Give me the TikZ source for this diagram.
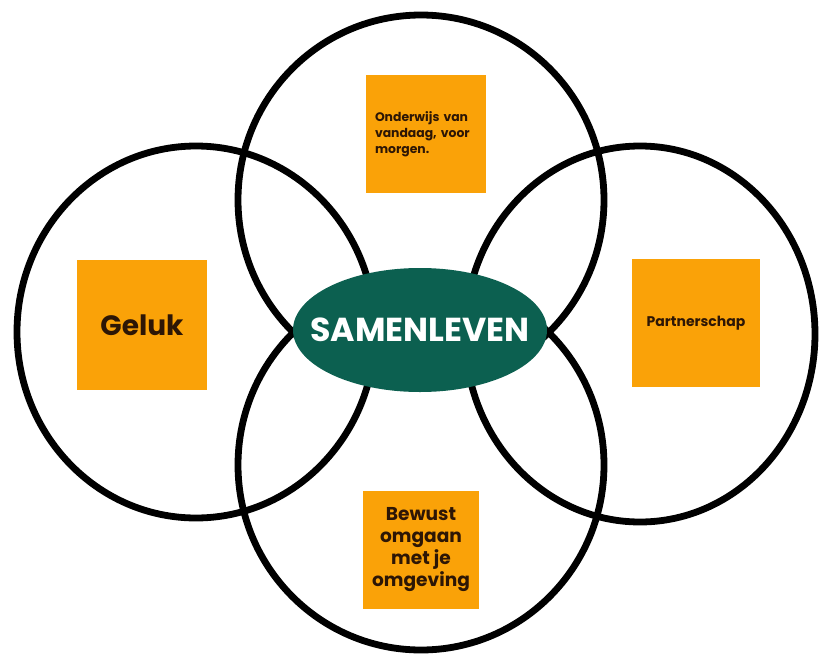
\documentclass[tikz,border=0pt]{standalone}
\usepackage{fontspec}
\setmainfont{Poppins}
\usepackage{tikz}
\definecolor{boxorange}{RGB}{250,162,8}
\definecolor{samengreen}{RGB}{12,96,80}
\definecolor{boxtext}{RGB}{45,22,5}

\begin{document}
\begin{tikzpicture}[x=0.5pt,y=-0.5pt,
  ring/.style={line width=3.4pt,black},
  theme/.style={fill=boxorange,text=boxtext,font=\bfseries,inner sep=0pt,align=center}]
\useasboundingbox (0,0) rectangle (820,659);
% the four rings
\draw[ring] (421,200) ellipse [x radius=183, y radius=185];
\draw[ring] (196,332) ellipse [x radius=179, y radius=186];
\draw[ring] (640,334) ellipse [x radius=175, y radius=188];
\draw[ring] (421,465) ellipse [x radius=183, y radius=185];
% centre
\fill[samengreen] (420,330) ellipse [x radius=127, y radius=62];
\node[text=white,inner sep=0pt,font=\bfseries\fontsize{16.6}{18}\selectfont] (samen) at (420,330) {SAMENLEVEN};
% themes
\node[theme,minimum width=60pt,minimum height=59pt,align=left,text width=51pt,
  font=\bfseries\fontsize{6.2}{8}\selectfont] (onderwijs) at (426,134)
  {Onderwijs van\\vandaag, voor\\morgen.};
\node[theme,minimum size=65pt,font=\bfseries\fontsize{14}{16}\selectfont] (geluk) at (142,325) {Geluk};
\node[theme,minimum size=64pt,font=\bfseries\fontsize{7}{8}\selectfont] (partner) at (696,323) {Partnerschap};
\node[theme,minimum width=58pt,minimum height=59pt,font=\bfseries\fontsize{9.3}{11}\selectfont] (omgeving) at (421,550)
  {Bewust\\omgaan\\met je\\omgeving};
\end{tikzpicture}
\end{document}
